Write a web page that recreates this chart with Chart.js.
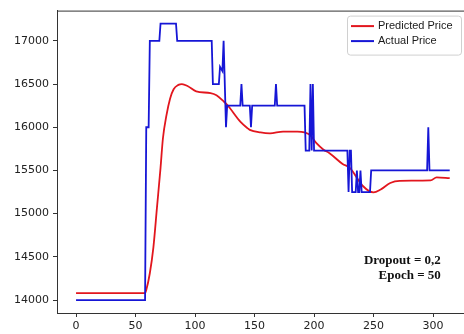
<!DOCTYPE html>
<html>
<head>
<meta charset="utf-8">
<script src="https://cdn.jsdelivr.net/npm/chart.js@4/dist/chart.umd.min.js"></script>
<style>
  html, body { margin:0; padding:0; background:#fff; overflow:hidden; }
  canvas { display:block; }
</style>
</head>
<body>
<canvas id="lineChart" width="464" height="334"></canvas>
<script>
// values
var xTicks = [0, 50, 100, 150, 200, 250, 300];
var yTicks = [14000, 14500, 15000, 15500, 16000, 16500, 17000];

var predX = [0, 58, 59, 62, 65, 68, 71, 73, 76, 79, 82, 86, 89, 94, 101, 113, 118, 124, 127, 138, 144, 146, 155, 163, 174, 186, 192, 197, 202, 208, 213, 224, 230, 241, 250, 256, 264, 272, 298, 303, 314];
var predY = [14080, 14080, 14115, 14310, 14610, 15070, 15530, 15870, 16140, 16330, 16440, 16490, 16500, 16475, 16415, 16395, 16370, 16300, 16260, 16065, 15990, 15970, 15940, 15930, 15950, 15950, 15940, 15905, 15815, 15740, 15700, 15575, 15530, 15320, 15245, 15280, 15355, 15380, 15385, 15420, 15410];

var actX = [0, 58, 59, 61, 62, 70, 71, 84, 85, 114, 115, 120, 121, 123, 124, 126, 127, 138, 139, 140, 146, 147, 148, 167, 168, 169, 192, 193, 196, 197, 198, 199, 200, 228, 229, 230, 231, 232, 235, 236, 237, 238, 239, 240, 247, 248, 295, 296, 297, 314];
var actY = [14000, 14000, 16000, 16000, 17000, 17000, 17200, 17200, 17000, 17000, 16500, 16500, 16700, 16650, 17000, 16000, 16250, 16250, 16500, 16250, 16250, 16000, 16250, 16250, 16500, 16250, 16250, 15730, 15730, 16500, 15730, 16500, 15730, 15730, 15250, 15730, 15730, 15250, 15250, 15500, 15250, 15250, 15500, 15250, 15250, 15500, 15500, 16000, 15500, 15500];

var labels = ['Predicted Price', 'Actual Price'];
var colors = ['rgb(226,22,30)', 'rgb(22,22,214)'];

function pts(xs, ys)
{
  var out = [];
  for (var i = 0; i < xs.length; i++) out.push({x: xs[i], y: ys[i]});
  return out;
}

var extras = {
  id: 'extras',
  afterDraw: function(chart)
  {
    var ctx = chart.ctx, a = chart.chartArea;
    var xs = chart.scales.x, ys = chart.scales.y;
    ctx.save();
    // top spine
    ctx.strokeStyle = '#333';
    ctx.lineWidth = 1;
    ctx.beginPath();
    ctx.moveTo(a.left, a.top + 0.5);
    ctx.lineTo(a.right, a.top + 0.5);
    ctx.stroke();

    // legend box
    var bx = a.right - 117, by = a.top + 5, bw = 114, bh = 39;
    ctx.fillStyle = 'rgba(255,255,255,0.85)';
    ctx.strokeStyle = '#d0d0d0';
    ctx.beginPath();
    ctx.roundRect(bx + 0.5, by + 0.5, bw, bh, 3);
    ctx.fill();
    ctx.stroke();
    ctx.font = '11px "Liberation Sans", Arial, sans-serif';
    ctx.textBaseline = 'middle';
    for (var i = 0; i < labels.length; i++)
    {
      var ly = by + 10.5 + i * 15;
      ctx.strokeStyle = colors[i];
      ctx.lineWidth = 2;
      ctx.beginPath();
      ctx.moveTo(bx + 4, ly);
      ctx.lineTo(bx + 27, ly);
      ctx.stroke();
      ctx.fillStyle = '#1a1a1a';
      ctx.fillText(labels[i], bx + 31, ly);
    }

    // annotation
    ctx.font = 'bold 13px "Liberation Serif", "Times New Roman", serif';
    ctx.fillStyle = '#111';
    ctx.textAlign = 'right';
    ctx.fillText('Dropout = 0,2', xs.getPixelForValue(306.5), ys.getPixelForValue(14460));
    ctx.fillText('Epoch = 50', xs.getPixelForValue(306.5), ys.getPixelForValue(14280));
    ctx.restore();
  }
};

const CHART = document.getElementById('lineChart');
var lineChart = new Chart(CHART,
{
  type: 'line',
  data: {
    datasets: [{
      label: labels[0],
      data: pts(predX, predY),
      borderColor: colors[0],
      borderWidth: 1.8,
      pointRadius: 0,
      cubicInterpolationMode: 'monotone',
      order: 1
    },
    {
      label: labels[1],
      data: pts(actX, actY),
      borderColor: colors[1],
      borderWidth: 1.8,
      pointRadius: 0,
      tension: 0,
      order: 0
    }]
  },
  options: {
    responsive: false,
    animation: false,
    devicePixelRatio: 1,
    layout: { padding: { top: 8, left: 0, right: 0, bottom: 0 } },
    plugins: { legend: { display: false }, tooltip: { enabled: false } },
    scales: {
      x: {
        type: 'linear',
        min: -16,
        max: 326,
        afterBuildTicks: function(s) { s.ticks = xTicks.map(function(v) { return {value: v}; }); },
        afterFit: function(s) { s.height = 21; },
        grid: { drawOnChartArea: false, drawTicks: true, tickLength: 4, color: '#333' },
        border: { display: true, color: '#333', width: 1 },
        ticks: { color: '#222', padding: 3, maxRotation: 0, font: { family: '"DejaVu Sans"', size: 11 } }
      },
      y: {
        type: 'linear',
        min: 13850,
        max: 17350,
        afterBuildTicks: function(s) { s.ticks = yTicks.map(function(v) { return {value: v}; }); },
        afterFit: function(s) { s.width = 57; },
        grid: { drawOnChartArea: false, drawTicks: true, tickLength: 4, color: '#333' },
        border: { display: true, color: '#333', width: 1 },
        ticks: { color: '#222', padding: 4, font: { family: '"DejaVu Sans"', size: 11 },
                 callback: function(v) { return String(v); } }
      }
    }
  },
  plugins: [extras]
});
</script>
</body>
</html>
